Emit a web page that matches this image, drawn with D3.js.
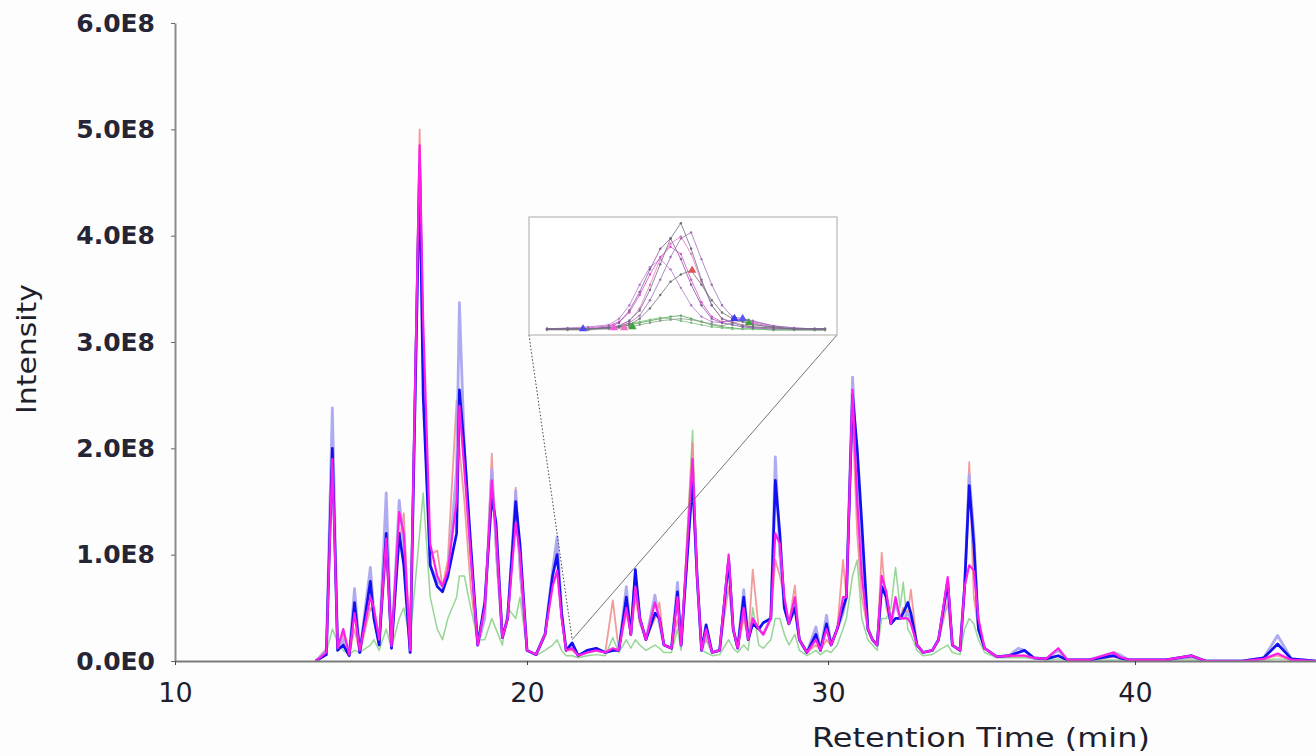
<!DOCTYPE html>
<html>
<head>
<meta charset="utf-8">
<script src="https://cdn.jsdelivr.net/npm/d3@7"></script>
<style>
  body { margin: 0; background: #fdfdfd; }
  svg { display: block; }
</style>
</head>
<body>
<div id="chart"></div>
<script>
// retention time grid (min) shared by all traces
var retentionTimes = [
  14.00,14.30,14.47,14.62,14.78,14.95,15.10,15.25,15.55,15.65,
  15.80,16.00,16.15,16.37,16.50,16.68,16.95,17.05,17.25,17.45,
  17.60,17.75,18.00,18.08,18.22,18.40,18.60,18.80,19.00,19.12,
  19.30,19.45,19.68,19.80,20.00,20.30,20.60,20.85,21.00,21.15,
  21.30,21.50,21.70,22.00,22.30,22.60,22.85,23.05,23.30,23.45,
  23.60,23.75,23.95,24.25,24.40,24.55,24.80,25.00,25.12,25.50,
  25.65,25.80,25.95,26.15,26.40,26.70,26.85,27.00,27.20,27.35,
  27.50,27.70,27.85,28.10,28.25,28.40,28.55,28.70,28.90,29.05,
  29.30,29.60,29.75,29.95,30.10,30.30,30.49,30.60,30.80,30.95,
  31.10,31.30,31.45,31.60,31.75,31.90,32.05,32.20,32.35,32.45,
  32.60,32.70,32.90,33.10,33.40,33.60,33.90,34.05,34.30,34.45,
  34.60,34.75,34.90,35.10,35.50,35.90,36.20,36.40,36.70,37.10,
  37.50,37.80,38.50,39.30,39.50,39.80,41.00,41.85,42.30,43.50,
  44.20,44.65,45.10,45.90
];

// intensities in units of 1e6 counts (100 = 1.0E8)
var blueTrace = [
  0,6,200,10,15,5,55,8,75,40,
  15,120,12,120,90,8,465,250,90,70,
  65,80,120,255,200,110,15,55,155,130,
  22,40,150,110,10,6,25,80,100,45,
  10,17,5,10,12,8,10,10,60,25,
  86,40,20,45,40,15,12,65,15,170,
  80,10,34,8,10,95,30,12,60,20,
  35,30,36,40,170,120,50,35,50,20,
  8,25,10,35,15,30,50,60,250,200,
  130,30,20,15,70,60,35,40,40,45,
  55,45,15,8,10,20,75,15,10,70,
  165,110,30,12,4,5,8,10,3,2,
  5,1,1,5,3,1,1,5,0,0,
  3,16,2,0
];
var magentaTrace = [
  0,8,190,12,30,6,45,10,60,50,
  20,115,14,140,120,10,485,320,110,80,
  70,85,150,240,180,100,15,50,170,120,
  22,40,130,100,10,6,25,70,85,40,
  10,12,5,8,10,8,12,10,50,25,
  70,40,20,55,40,15,12,60,15,190,
  80,10,30,8,10,100,30,12,50,20,
  40,30,25,40,120,110,60,35,60,20,
  8,20,10,30,15,30,60,60,255,150,
  80,30,20,15,80,65,35,60,40,40,
  40,35,15,8,10,20,79,15,10,70,
  90,85,40,12,4,5,5,5,3,2,
  12,1,1,8,4,1,1,5,0,0,
  2,7,1,0
];
var lavenderTrace = [
  0,10,238,12,20,5,68,8,88,45,
  15,158,12,151,110,8,470,280,90,75,
  70,78,180,337,200,100,15,40,180,110,
  22,40,160,90,10,6,25,85,117,45,
  10,14,5,8,10,8,10,10,70,25,
  80,40,20,62,35,15,12,74,15,180,
  80,10,25,8,10,95,30,12,67,20,
  40,30,25,40,192,100,50,35,55,20,
  8,32,10,43,15,30,45,60,267,180,
  110,30,20,15,70,60,35,55,40,40,
  45,40,15,8,10,20,70,15,10,70,
  175,120,30,12,4,5,12,10,3,2,
  10,1,1,8,6,1,1,4,0,0,
  3,24,2,0
];
var salmonTrace = [
  0,12,200,10,25,6,30,8,50,45,
  15,100,12,110,139,10,500,300,100,104,
  70,95,245,200,150,70,15,45,195,100,
  22,40,163,80,10,6,25,80,110,40,
  10,10,5,10,12,8,57,10,45,25,
  60,35,20,40,55,15,12,40,15,205,
  80,10,20,8,10,70,30,12,40,20,
  86,30,25,40,95,80,60,35,71,20,
  8,15,10,20,15,30,95,60,230,120,
  60,30,20,15,102,50,35,40,40,50,
  45,67,15,8,10,20,55,15,10,70,
  187,60,30,12,4,4,5,5,3,2,
  5,1,1,4,3,1,1,3,0,0,
  2,5,1,0
];
var greenTrace = [
  0,8,30,18,10,6,10,8,15,20,
  10,30,12,40,50,20,120,158,60,30,
  20,40,60,80,80,50,20,20,40,30,
  15,50,40,60,10,5,10,15,20,10,
  5,5,3,5,6,5,22,8,20,12,
  20,15,10,15,12,8,8,30,10,217,
  80,10,8,5,6,20,12,8,15,10,
  50,15,12,20,40,40,25,15,25,10,
  5,10,6,10,8,15,30,40,80,95,
  40,20,15,10,40,40,50,88,50,74,
  30,25,10,5,6,10,15,8,6,30,
  40,35,20,8,3,3,3,3,2,1,
  2,1,1,1,1,1,1,1,0,0,
  1,2,1,0
];

var yTicks = [0, 100, 200, 300, 400, 500, 600];
var xTicks = [10, 20, 30, 40];

// inset: zoom on one small peak, scan number vs relative intensity
var insetScans = [0,2,4,6,7,8,9,10,11,12,13,14,15,16,17,18,19,20,22,24,26,27];
var insetA = [2,2,2,3,5,10,20,40,65,90,105,80,50,25,12,8,5,4,3,2,2,2];
var insetB = [2,2,2,4,8,20,38,60,80,90,70,45,25,12,8,6,4,3,2,2,2,2];
var insetC = [2,2,2,3,4,8,15,30,50,72,90,96,70,45,25,14,12,10,5,3,2,2];
var insetD = [2,2,2,3,5,10,22,45,70,85,92,75,48,25,12,9,6,4,3,2,2,2];
var insetE = [2,2,3,5,9,18,35,55,72,82,75,50,28,14,9,10,12,8,4,2,2,2];
var insetF = [2,3,4,6,12,25,45,62,70,60,42,25,14,9,8,11,12,9,5,3,2,2];
var insetG = [2,2,2,3,4,6,12,22,35,48,55,59,45,30,18,12,9,6,4,2,2,2];
var insetH = [2,2,2,3,4,6,8,10,12,14,15,12,9,6,4,3,2,2,1,1,1,1];
var insetI = [2,2,2,3,5,7,9,11,13,12,10,8,6,4,3,2,2,2,1,1,1,1];
var insetJ = [1,1,1,2,3,4,6,8,10,11,12,11,9,7,5,8,10,7,3,2,1,1];
// triangle markers in the inset: [scan, value]
var insetTriangles = [[14.1,59],[18.2,12],[19.0,12],[19.6,8],[3.5,2],[6.5,3],[7.5,3],[8.3,4]];

var width = 1316, height = 756;

var svg = d3.select("#chart")
  .append("svg")
    .attr("width", width)
    .attr("height", height);

svg.append("rect")
  .attr("width", width)
  .attr("height", height)
  .attr("fill", "#fdfdfd");

// x axis in the picture is not evenly spaced, so use a piecewise scale
var x = d3.scaleLinear()
  .domain([10, 20, 30, 40, 46])
  .range([175, 527, 828, 1135, 1319]);
var y = d3.scaleLinear()
  .domain([0, 600])
  .range([661, 23]);

svg.append("clipPath").attr("id", "plotclip")
  .append("rect").attr("x", 176).attr("y", 0).attr("width", width - 176).attr("height", 661);

// traces
var line = d3.line()
  .x(function(d) { return x(d[0]); })
  .y(function(d) { return y(d[1]); });

var series = [
  {name: "green", values: greenTrace, color: "#6cc46c", w: 1.5, op: 0.7},
  {name: "salmon", values: salmonTrace, color: "#f08a8a", w: 1.8, op: 0.85},
  {name: "lavender", values: lavenderTrace, color: "#aaa6f0", w: 2.8, op: 0.95},
  {name: "blue", values: blueTrace, color: "#1010f2", w: 2.7, op: 1},
  {name: "magenta", values: magentaTrace, color: "#ff1ee8", w: 2.2, op: 1}
];

var plot = svg.append("g").attr("clip-path", "url(#plotclip)");
plot.selectAll("path.trace")
  .data(series)
  .enter()
  .append("path")
    .attr("class", "trace")
    .attr("d", function(s) {
      return line(retentionTimes.map(function(t, i) { return [t, s.values[i]]; }));
    })
    .attr("fill", "none")
    .attr("stroke", function(s) { return s.color; })
    .attr("stroke-width", function(s) { return s.w; })
    .attr("stroke-opacity", function(s) { return s.op; })
    .attr("stroke-linejoin", "round");

// axes
var fmt = function(d) { return d === 0 ? "0.0E0" : (d / 100).toFixed(1) + "E8"; };

var yAxis = svg.append("g")
  .attr("transform", "translate(175,0)")
  .call(d3.axisLeft(y).tickValues(yTicks).tickSize(4).tickSizeOuter(0).tickPadding(16).tickFormat(fmt));
yAxis.select(".domain").attr("stroke", "#8c8c8c").attr("stroke-width", 2);
yAxis.selectAll(".tick line").attr("stroke", "#666");
yAxis.selectAll(".tick text")
  .attr("font-family", "DejaVu Sans")
  .attr("font-size", 25)
  .attr("font-weight", "bold")
  .attr("fill", "#252535");

var xAxis = svg.append("g")
  .attr("transform", "translate(0,661)")
  .call(d3.axisBottom(x).tickValues(xTicks).tickSize(4).tickSizeOuter(0).tickPadding(18).tickFormat(d3.format("d")));
xAxis.select(".domain").attr("stroke", "#7a7a7a").attr("stroke-width", 2);
xAxis.selectAll(".tick line").attr("stroke", "#444");
xAxis.selectAll(".tick text")
  .attr("font-family", "DejaVu Sans")
  .attr("font-size", 27)
  .attr("fill", "#1e1e2c");

// axis titles
svg.append("text")
  .attr("transform", "translate(27,349) rotate(-90)")
  .attr("text-anchor", "middle")
  .attr("dominant-baseline", "central")
  .attr("font-family", "DejaVu Sans")
  .attr("font-size", 26)
  .attr("textLength", 130)
  .attr("lengthAdjust", "spacingAndGlyphs")
  .attr("fill", "#1e1e2c")
  .text("Intensity");

svg.append("text")
  .attr("x", 981)
  .attr("y", 747)
  .attr("text-anchor", "middle")
  .attr("font-family", "DejaVu Sans")
  .attr("font-size", 26)
  .attr("textLength", 338)
  .attr("lengthAdjust", "spacingAndGlyphs")
  .attr("fill", "#1e1e2c")
  .text("Retention Time (min)");

// inset box and its connectors to the zoomed region
var box = {x: 529, y: 217, w: 308, h: 118};
var zoomPt = [x(21.5), y(20)];

svg.append("line")
  .attr("x1", box.x).attr("y1", box.y + box.h)
  .attr("x2", zoomPt[0]).attr("y2", zoomPt[1])
  .attr("stroke", "#444").attr("stroke-width", 1)
  .attr("stroke-dasharray", "1.5,2");
svg.append("line")
  .attr("x1", box.x + box.w).attr("y1", box.y + box.h)
  .attr("x2", zoomPt[0]).attr("y2", zoomPt[1])
  .attr("stroke", "#666").attr("stroke-width", 0.9);

svg.append("rect")
  .attr("x", box.x).attr("y", box.y)
  .attr("width", box.w).attr("height", box.h)
  .attr("fill", "#ffffff")
  .attr("stroke", "#b8b8b8")
  .attr("stroke-width", 1.2);

var ix = d3.scaleLinear().domain([0, 27]).range([547, 825]);
var iy = d3.scaleLinear().domain([0, 110]).range([331, 218]);

var insetSeries = [
  {values: insetH, color: "#4fa04f"},
  {values: insetI, color: "#7fbf7f"},
  {values: insetJ, color: "#8aa08a"},
  {values: insetF, color: "#b07cc8"},
  {values: insetE, color: "#d84fd0"},
  {values: insetD, color: "#e878c0"},
  {values: insetC, color: "#9b6fb5"},
  {values: insetB, color: "#8a5aa0"},
  {values: insetG, color: "#707078"},
  {values: insetA, color: "#6e6e88"}
];

var iline = d3.line()
  .x(function(d) { return ix(d[0]); })
  .y(function(d) { return iy(d[1]); });

var inset = svg.append("g");
insetSeries.forEach(function(s) {
  var pts = insetScans.map(function(sc, i) { return [sc, s.values[i]]; });
  inset.append("path")
    .attr("d", iline(pts))
    .attr("fill", "none")
    .attr("stroke", s.color)
    .attr("stroke-width", 1)
    .attr("stroke-opacity", 0.8);
  inset.selectAll(null)
    .data(pts)
    .enter()
    .append("circle")
      .attr("cx", function(d) { return ix(d[0]); })
      .attr("cy", function(d) { return iy(d[1]); })
      .attr("r", 1.2)
      .attr("fill", s.color);
});

var triColors = ["#e05555", "#3b3bf0", "#5a5af0", "#3fa03f", "#4a4af0", "#f05ad8", "#f070c0", "#3fa03f"];
inset.selectAll("path.tri")
  .data(insetTriangles)
  .enter()
  .append("path")
    .attr("class", "tri")
    .attr("d", d3.symbol().type(d3.symbolTriangle).size(30))
    .attr("transform", function(d) { return "translate(" + ix(d[0]) + "," + iy(d[1]) + ")"; })
    .attr("fill", function(d, i) { return triColors[i]; });
</script>
</body>
</html>
